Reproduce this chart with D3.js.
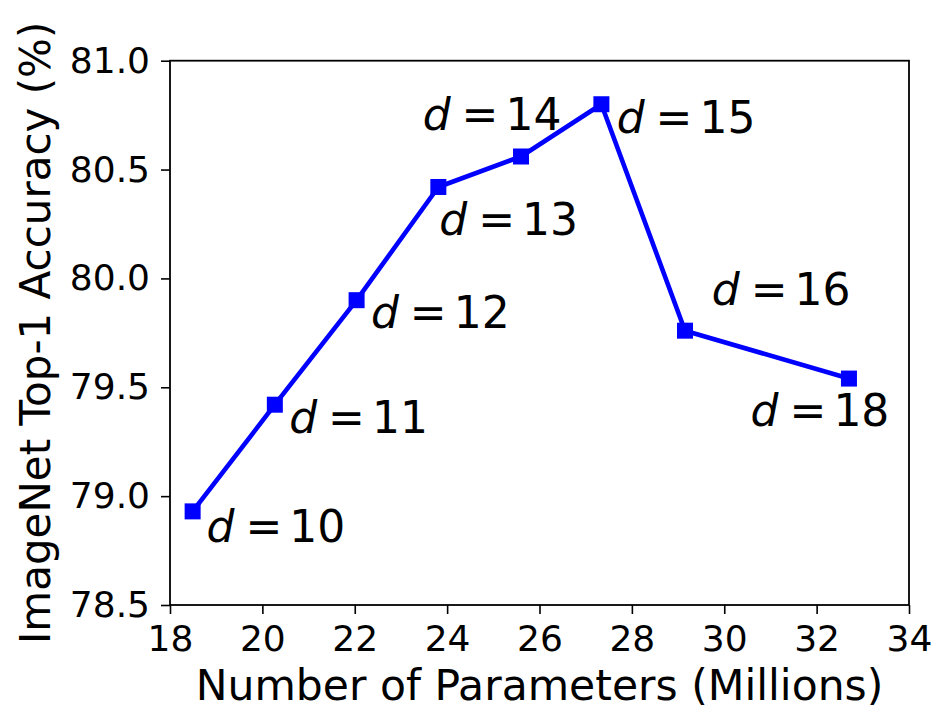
<!DOCTYPE html>
<html>
<head>
<meta charset="utf-8">
<script src="https://cdn.jsdelivr.net/npm/d3@7"></script>
<style>
  html, body { margin: 0; padding: 0; background: #fff; }
  svg { display: block; }
  text { font-family: "DejaVu Sans", sans-serif; }
</style>
</head>
<body>
<svg id="chart" width="951" height="728"></svg>
<script>
// Data
const params   = [18.49, 20.27, 22.04, 23.81, 25.60, 27.34, 29.15, 32.70];   // millions
const accuracy = [78.93, 79.42, 79.90, 80.42, 80.56, 80.80, 79.76, 79.54];   // top-1 %
const depths   = [10, 11, 12, 13, 14, 15, 16, 18];
// label anchor (left of text, baseline) in data coordinates
const labelX   = [18.79, 20.58, 22.35, 23.83, 23.47, 27.67, 29.73, 30.57];
const labelY   = [78.79, 79.29, 79.77, 80.20, 80.68, 80.67, 79.88, 79.32];
const xTicks   = [18, 20, 22, 24, 26, 28, 30, 32, 34];
const yTicks   = [78.5, 79.0, 79.5, 80.0, 80.5, 81.0];
const xTitle   = "Number of Parameters (Millions)";
const yTitle   = "ImageNet Top-1 Accuracy (%)";

const svg = d3.select("#chart");
const mLeft = 170, mRight = 909, mTop = 60.7, mBottom = 605;

const x = d3.scaleLinear().domain([18, 34]).range([mLeft, mRight]);
const y = d3.scaleLinear().domain([78.5, 81.0]).range([mBottom, mTop]);

// axes
const xAxis = d3.axisBottom(x).tickValues(xTicks).tickFormat(d3.format("d"))
  .tickSize(9).tickSizeOuter(0).tickPadding(11);
const yAxis = d3.axisLeft(y).tickValues(yTicks).tickFormat(d3.format(".1f"))
  .tickSize(9).tickSizeOuter(0).tickPadding(11);

const gx = svg.append("g").attr("transform", `translate(0,${mBottom})`).call(xAxis);
const gy = svg.append("g").attr("transform", `translate(${mLeft},0)`).call(yAxis);
[gx, gy].forEach(g => {
  g.select(".domain").remove();
  g.selectAll(".tick line").attr("stroke", "#000").attr("stroke-width", 1.6);
  g.selectAll(".tick text").attr("fill", "#000").style("font-size", "36px")
    .style("font-family", "'DejaVu Sans', sans-serif");
});

// frame
svg.append("rect")
  .attr("x", mLeft).attr("y", mTop)
  .attr("width", mRight - mLeft).attr("height", mBottom - mTop)
  .attr("fill", "none").attr("stroke", "#000").attr("stroke-width", 1.8);

// line
const line = d3.line().x((d, i) => x(params[i])).y((d, i) => y(accuracy[i]));
svg.append("path").datum(params)
  .attr("d", line)
  .attr("fill", "none").attr("stroke", "#0000ff").attr("stroke-width", 4.6)
  .attr("stroke-linejoin", "round");

// markers
const ms = 16;
svg.append("g").selectAll("rect").data(params).join("rect")
  .attr("x", (d, i) => x(params[i]) - ms / 2)
  .attr("y", (d, i) => y(accuracy[i]) - ms / 2)
  .attr("width", ms).attr("height", ms)
  .attr("fill", "#0000ff");

// labels
const lab = svg.append("g").selectAll("text").data(depths).join("text")
  .attr("x", (d, i) => x(labelX[i]))
  .attr("y", (d, i) => y(labelY[i]))
  .style("font-size", "44px").attr("fill", "#000");
lab.append("tspan").style("font-style", "italic").text("d");
lab.append("tspan").attr("dx", 11).text("=");
lab.append("tspan").attr("dx", 7).text(d => d);

// axis titles
svg.append("text")
  .attr("x", (mLeft + mRight) / 2).attr("y", 700)
  .attr("text-anchor", "middle").style("font-size", "42.5px").attr("fill", "#000")
  .text(xTitle);
svg.append("text")
  .attr("transform", `translate(50,${(mTop + mBottom) / 2}) rotate(-90)`)
  .attr("text-anchor", "middle").style("font-size", "42px").attr("fill", "#000")
  .text(yTitle);
</script>
</body>
</html>
